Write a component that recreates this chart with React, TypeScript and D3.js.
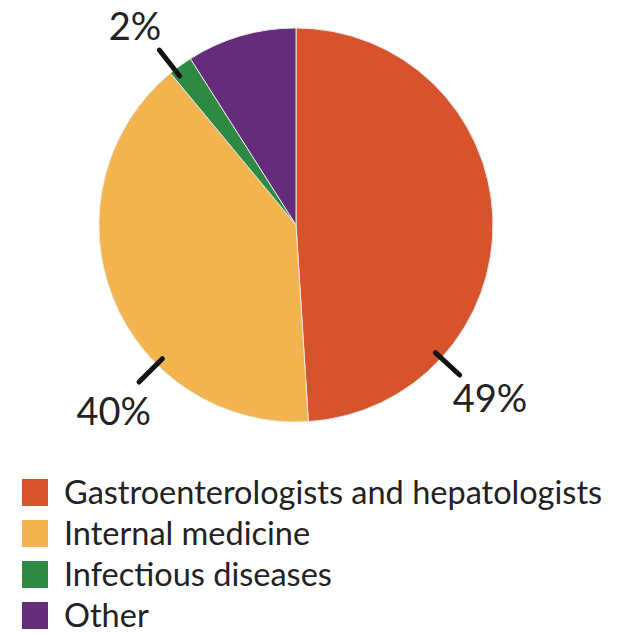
import React from "react";
import * as d3 from "d3";

const categories = [
  "Gastroenterologists and hepatologists",
  "Internal medicine",
  "Infectious diseases",
  "Other",
];
const shares = [49, 40, 2, 9];
const colors = ["#D6532B", "#F3B450", "#2E8A42", "#642C7A"];
// Percent labels: which slice, and the angle (degrees, clockwise from top) of its leader line
const labelSlices = [0, 1, 2];
const labelAngles = [132.5, 225, 322];

const W = 618;
const H = 633;
const cx = 296;
const cy = 225;
const R = 197;

export default function App() {
  const pie = d3
    .pie<number>()
    .sort(null)
    .value((d) => d);
  const arcs = pie(shares);
  const arc = d3.arc<d3.PieArcDatum<number>>().innerRadius(0).outerRadius(R);

  const rad = (deg: number) => (deg * Math.PI) / 180;
  const pt = (deg: number, r: number) => [cx + r * Math.sin(rad(deg)), cy - r * Math.cos(rad(deg))];

  const font = "Lato, 'Open Sans', sans-serif";

  return (
    <svg
      width={W}
      height={H}
      style={{ position: "absolute", left: 0, top: 0, background: "#fff" }}
    >
      <g transform={`translate(${cx},${cy})`}>
        {arcs.map((a, i) => (
          <path key={i} d={arc(a) || ""} fill={colors[i]} stroke="#e6e6e6" strokeWidth={1} />
        ))}
      </g>
      {labelSlices.map((si, k) => {
        const ang = labelAngles[k];
        const [x1, y1] = pt(ang, R - 8);
        const [x2, y2] = pt(ang, R + 25);
        const text = `${shares[si]}%`;
        let tx = x2;
        let ty = y2;
        let anchor: "start" | "middle" | "end" = "middle";
        if (k === 0) {
          tx = x2 - 7;
          ty = y2 + 37;
          anchor = "start";
        } else if (k === 1) {
          tx = x2 + 12;
          ty = y2 + 43;
          anchor = "end";
        } else {
          tx = x2 + 2;
          ty = y2 - 10;
          anchor = "end";
        }
        return (
          <g key={k}>
            <line x1={x1} y1={y1} x2={x2} y2={y2} stroke="#111" strokeWidth={5} strokeLinecap="round" />
            <text x={tx} y={ty} textAnchor={anchor} fontFamily={font} fontSize={38} fill="#222">
              {text}
            </text>
          </g>
        );
      })}
      {categories.map((c, i) => {
        const y = 479 + i * 41;
        return (
          <g key={c}>
            <rect x={22} y={y} width={26} height={27} fill={colors[i]} />
            <text x={64} y={y + 25} fontFamily={font} fontSize={32.5} fill="#222">
              {c}
            </text>
          </g>
        );
      })}
    </svg>
  );
}
